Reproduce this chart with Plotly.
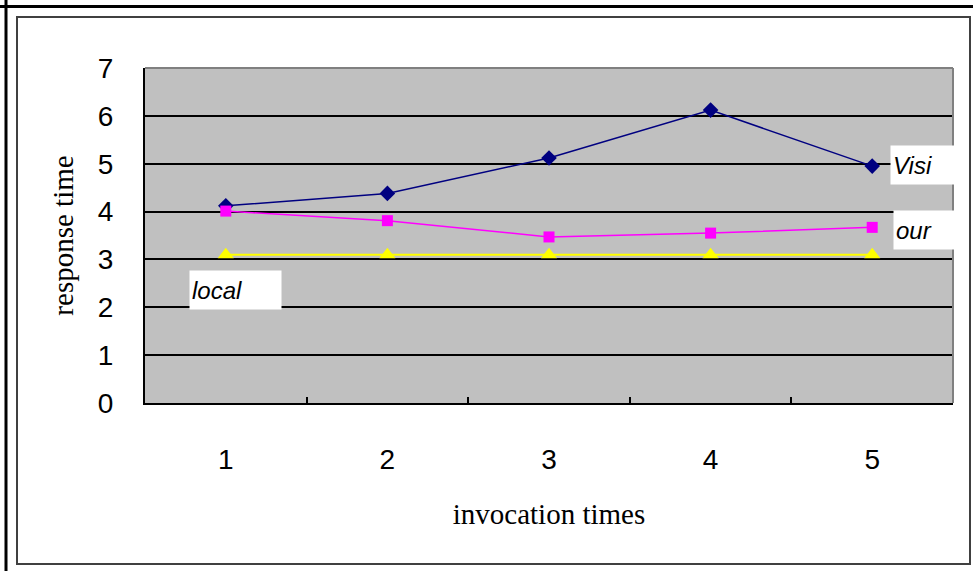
import plotly.graph_objects as go

categories = ["1", "2", "3", "4", "5"]
visi = [4.12, 4.38, 5.12, 6.12, 4.95]
our = [4.01, 3.81, 3.47, 3.55, 3.67]
local = [3.1, 3.1, 3.1, 3.1, 3.1]
y_ticks = [0, 1, 2, 3, 4, 5, 6, 7]

W, H = 973, 571
L, R, T, B = 145, 20, 68, 168
PW, PH = W - L - R, H - T - B


def px(x):
    return (x - L) / PW


def py(y):
    return (H - B - y) / PH


fig = go.Figure()
fig.add_trace(go.Scatter(x=categories, y=visi, name="Visi", mode="lines+markers",
                         line=dict(color="#000080", width=1.5),
                         marker=dict(symbol="diamond", size=12, color="#000080")))
fig.add_trace(go.Scatter(x=categories, y=our, name="our", mode="lines+markers",
                         line=dict(color="#FF00FF", width=1.5),
                         marker=dict(symbol="square", size=11, color="#FF00FF")))
fig.add_trace(go.Scatter(x=categories, y=local, name="local", mode="lines+markers",
                         line=dict(color="#FFFF00", width=2),
                         marker=dict(symbol="triangle-up", size=14, color="#FFFF00")))

tick_font = dict(family="Liberation Sans", size=28, color="#000000")
title_font = dict(family="Liberation Serif", size=29, color="#000000")
lab_font = dict(family="Liberation Sans", size=24, color="#000000")

fig.update_layout(
    width=W, height=H,
    margin=dict(l=L, r=R, t=T, b=B),
    paper_bgcolor="#FFFFFF",
    plot_bgcolor="#C0C0C0",
    showlegend=False,
    xaxis=dict(type="category", range=[-0.5, 4.5], tickson="boundaries",
               ticks="inside", ticklen=6, tickcolor="#000000", tickwidth=1.5,
               showline=True, linecolor="#000000", linewidth=2,
               showgrid=False, tickfont=tick_font, ticklabelstandoff=30,
               title=dict(text="invocation times", font=title_font, standoff=30)),
    yaxis=dict(range=[0, 7], tickvals=y_ticks, ticktext=[str(v) for v in y_ticks],
               ticks="inside", ticklen=6, tickcolor="#000000",
               showline=True, linecolor="#000000", linewidth=2,
               showgrid=True, gridcolor="#000000", gridwidth=2,
               zeroline=False, tickfont=tick_font, ticklabelstandoff=24,
               title=dict(text="response time", font=title_font, standoff=16)),
)

# plot area border (top/right) in grey
fig.add_shape(type="line", xref="paper", yref="paper", x0=0, x1=1, y0=1, y1=1,
              line=dict(color="#808080", width=2), layer="above")
fig.add_shape(type="line", xref="paper", yref="paper", x0=1, x1=1, y0=0, y1=1,
              line=dict(color="#808080", width=2), layer="above")

# chart frames
fig.add_shape(type="rect", xref="paper", yref="paper",
              x0=px(17), x1=px(970), y0=py(17), y1=py(564),
              line=dict(color="#404040", width=2))
fig.add_shape(type="line", xref="paper", yref="paper",
              x0=px(0), x1=px(973), y0=py(6.5), y1=py(6.5),
              line=dict(color="#000000", width=3))
fig.add_shape(type="line", xref="paper", yref="paper",
              x0=px(6), x1=px(6), y0=py(0), y1=py(571),
              line=dict(color="#000000", width=3))

# series labels
labels = [("Visi", 890, 165, 60), ("our", 893, 229.5, 57), ("local", 189, 289.5, 87)]
for text, lx, ly, w in labels:
    fig.add_annotation(text="<i>%s</i>" % text, xref="paper", yref="paper",
                       x=px(lx), y=py(ly), xanchor="left", yanchor="middle",
                       showarrow=False, bgcolor="#FFFFFF", width=w, height=34,
                       borderpad=2, align="left", font=lab_font)

fig.write_html("out.html", config={"displayModeBar": False},
               post_script="document.body.style.margin='0';document.body.style.overflow='hidden';")
